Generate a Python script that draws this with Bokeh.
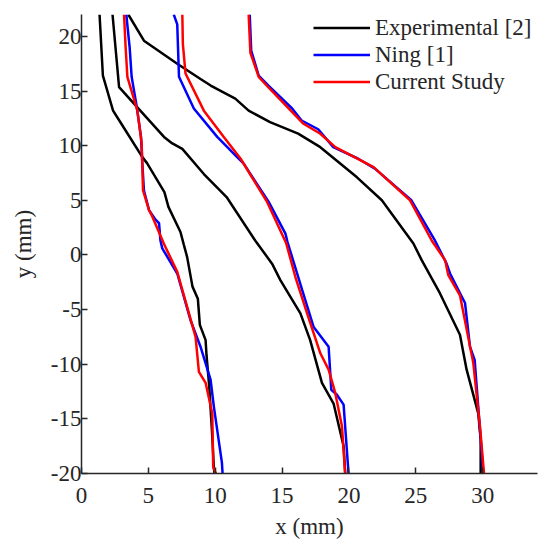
from bokeh.plotting import figure
from bokeh.models import Range1d, FixedTicker, Legend, LegendItem
from bokeh.embed import file_html
from bokeh.resources import INLINE

# ---- data (x in mm, y in mm) ----
exp1_x = [1.35, 1.6, 2.36, 2.98, 4.55, 4.9, 6.2, 6.5, 7.4, 7.66, 7.9, 8.3, 8.7, 8.85, 9.28, 9.35, 9.4, 9.55, 9.75, 9.9, 9.95]
exp1_y = [22.0, 16.4, 13.2, 12.0, 8.95, 8.4, 5.75, 4.4, 2.1, 0.9, -0.2, -2.9, -4.0, -6.4, -7.8, -9.2, -9.9, -12.0, -16.0, -19.5, -20.0]

ning1_x = [3.35, 3.6, 3.75, 4.1, 4.45, 4.55, 4.67, 5.05, 5.55, 5.8, 5.9, 6.04, 7.16, 8.16, 8.9, 9.65, 9.9, 10.5, 10.55]
ning1_y = [22.0, 19.0, 16.3, 13.8, 10.8, 8.35, 5.9, 4.1, 3.2, 2.9, 1.35, 0.6, -1.7, -6.0, -8.4, -11.4, -13.9, -19.0, -20.0]

cur1_x = [3.18, 3.3, 3.43, 4.18, 4.5, 4.6, 5.05, 5.3, 6.17, 7.16, 8.53, 8.78, 9.28, 9.78, 9.85, 10.05]
cur1_y = [22.0, 19.0, 16.3, 13.2, 10.2, 5.9, 4.1, 3.5, 1.0, -1.55, -7.5, -10.7, -11.7, -14.5, -19.4, -20.0]

exp2_x = [2.32, 2.81, 6.17, 6.79, 7.54, 9.15, 10.85, 13.0, 14.25, 14.87, 16.37, 17.1, 17.98, 18.85, 19.6, 19.72]
exp2_y = [22.0, 15.35, 10.8, 10.2, 9.7, 7.4, 5.3, 1.3, -0.8, -2.3, -5.35, -7.8, -11.7, -13.6, -17.5, -20.0]

ning2_x = [6.9, 7.16, 7.29, 8.4, 10.15, 11.64, 12.13, 14.0, 15.25, 15.4, 16.5, 17.36, 18.48, 18.68, 19.1, 19.6, 19.97]
ning2_y = [22.0, 21.1, 16.3, 13.4, 10.8, 8.95, 8.35, 4.85, 1.95, 1.2, -3.2, -6.6, -8.4, -12.35, -12.8, -13.7, -20.0]

cur2_x = [7.54, 7.58, 7.78, 9.15, 10.64, 11.9, 13.88, 15.3, 15.99, 16.87, 17.86, 18.48, 18.98, 19.48, 19.72]
cur2_y = [22.0, 19.3, 16.6, 13.2, 10.8, 8.8, 4.85, 1.1, -2.0, -5.35, -9.0, -10.5, -12.65, -15.7, -20.0]

exp3_x = [3.5, 4.67, 7.16, 8.9, 9.66, 11.5, 12.5, 14.1, 16.2, 17.86, 20.6, 22.46, 24.82, 25.45, 26.8, 28.3, 28.8, 29.67, 29.85, 29.85]
exp3_y = [22.0, 19.6, 17.5, 16.1, 15.5, 14.3, 13.2, 12.15, 11.1, 9.86, 7.1, 5.0, 1.04, -0.5, -3.5, -7.3, -10.5, -14.5, -16.9, -20.0]

ning3_x = [12.58, 12.69, 13.25, 13.98, 15.75, 16.46, 17.7, 18.83, 20.7, 21.94, 24.67, 26.44, 27.3, 27.56, 28.3, 28.68, 29.05, 29.4, 30.05]
ning3_y = [22.0, 18.7, 16.4, 15.5, 13.4, 12.3, 11.5, 9.86, 8.8, 7.9, 5.0, 1.3, -0.8, -1.7, -3.5, -4.4, -8.4, -9.6, -20.0]

cur3_x = [12.5, 12.63, 13.25, 14.0, 16.6, 17.86, 18.98, 21.84, 24.57, 26.2, 27.2, 27.43, 28.3, 29.3, 29.8, 30.1]
cur3_y = [22.0, 18.5, 16.3, 15.3, 12.0, 11.09, 9.86, 8.04, 5.0, 1.3, -0.5, -1.85, -3.7, -9.9, -15.7, -20.0]

x_ticks = [0, 5, 10, 15, 20, 25, 30]
y_ticks = [-20, -15, -10, -5, 0, 5, 10, 15, 20]
series_labels = ["Experimental [2]", "Ning [1]", "Current Study"]

FONT = "Liberation Serif"
AX = "#262626"

p = figure(width=538, height=541, output_backend="svg", toolbar_location=None,
           x_range=Range1d(0, 34.1), y_range=Range1d(-20, 22),
           min_border_left=81, min_border_right=1, min_border_top=14, min_border_bottom=67)
p.outline_line_color = None
p.grid.visible = False
p.background_fill_color = "white"
p.border_fill_color = "white"

for ax in (p.xaxis[0], p.yaxis[0]):
    ax.axis_line_color = AX
    ax.axis_line_width = 1.5
    ax.major_tick_line_color = AX
    ax.major_tick_line_width = 1.5
    ax.major_tick_in = 6
    ax.major_tick_out = 0
    ax.minor_tick_line_color = None
    ax.major_label_text_font = FONT
    ax.major_label_text_font_size = "23px"
    ax.major_label_text_color = AX
    ax.axis_label_text_font = FONT
    ax.axis_label_text_font_size = "23px"
    ax.axis_label_text_font_style = "normal"
    ax.axis_label_text_color = AX

p.xaxis.ticker = FixedTicker(ticks=x_ticks)
p.yaxis.ticker = FixedTicker(ticks=y_ticks)
p.xaxis.major_label_overrides = {t: str(t) for t in x_ticks}
p.yaxis.major_label_overrides = {t: str(t) for t in y_ticks}
p.xaxis.axis_label = "x (mm)"
p.yaxis.axis_label = "y (mm)"
p.xaxis.major_label_standoff = 14
p.xaxis.axis_label_standoff = 8
p.yaxis.major_label_standoff = 0
p.yaxis.axis_label_standoff = 12

LW = 2.5
r_exp = [p.line(x, y, line_color="black", line_width=LW) for x, y in
         [(exp1_x, exp1_y), (exp2_x, exp2_y), (exp3_x, exp3_y)]]
r_ning = [p.line(x, y, line_color="#0000FF", line_width=LW) for x, y in
          [(ning1_x, ning1_y), (ning2_x, ning2_y), (ning3_x, ning3_y)]]
r_cur = [p.line(x, y, line_color="#FF0000", line_width=LW) for x, y in
         [(cur1_x, cur1_y), (cur2_x, cur2_y), (cur3_x, cur3_y)]]

legend = Legend(items=[LegendItem(label=series_labels[0], renderers=[r_exp[0]]),
                       LegendItem(label=series_labels[1], renderers=[r_ning[0]]),
                       LegendItem(label=series_labels[2], renderers=[r_cur[0]])],
                location=(232, 378), margin=0, padding=0, spacing=0,
                glyph_width=57, glyph_height=27, label_height=27, label_standoff=5,
                label_text_font=FONT, label_text_font_size="23px", label_text_color=AX,
                background_fill_alpha=0, border_line_alpha=0)
p.add_layout(legend)

open("out.html", "w").write(file_html(p, INLINE))
